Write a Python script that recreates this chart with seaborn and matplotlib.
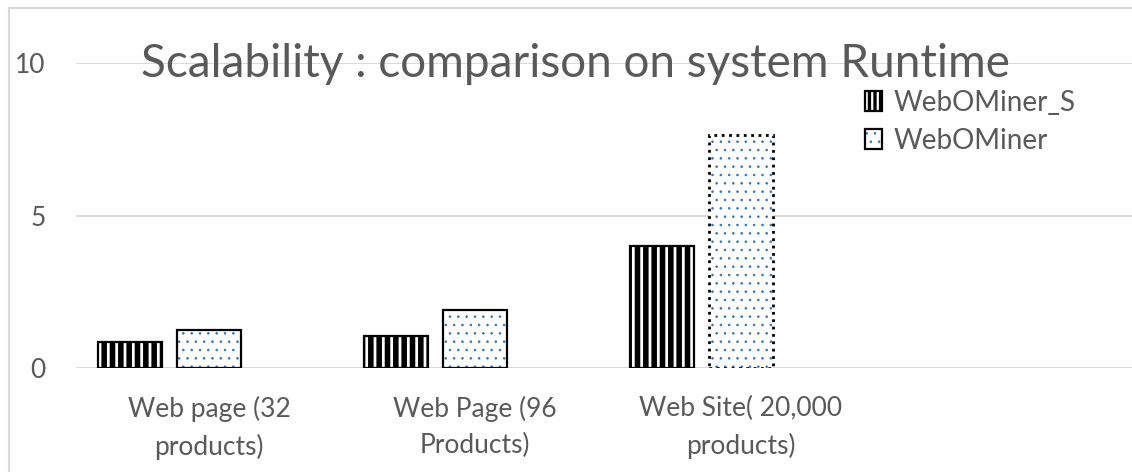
import matplotlib
matplotlib.use("Agg")
import matplotlib.pyplot as plt
import seaborn as sns
import pandas as pd
from matplotlib.patches import Patch, Rectangle

# Runtime per dataset size for the two miners
categories = ["Web page (32\nproducts)", "Web Page (96\nProducts)", "Web Site( 20,000\nproducts)"]
webominer_s = [0.85, 1.05, 4.0]
webominer = [1.25, 1.9, 7.65]
series = ["WebOMiner_S", "WebOMiner", "Series3"]  # Series3 holds no values
y_ticks = [0, 5, 10]
title = "Scalability : comparison on system Runtime"

TEXT = "#595959"
GRID = "#D9D9D9"
DOT_BLUE = "#2E75B6"
FS = 19

df = pd.DataFrame({
    "category": categories * 2,
    "runtime": webominer_s + webominer,
    "series": [series[0]] * len(categories) + [series[1]] * len(categories),
})

sns.set_theme(style="white")
plt.rcParams["font.family"] = ["Lato", "DejaVu Sans"]

fig = plt.figure(figsize=(11.32, 4.72), dpi=100)
ax = fig.add_axes([76 / 1132, 1 - 368.3 / 472, 1064 / 1132, 305 / 472])

sns.barplot(
    data=df, x="category", y="runtime", hue="series",
    order=categories, hue_order=series,
    palette={series[0]: "white", series[1]: "white", series[2]: "white"},
    width=0.89, gap=0.19, edgecolor="black", linewidth=1.6,
    legend=False, ax=ax, zorder=3,
)


def hatch_style(patch, hatch, hatch_color, hatch_lw):
    """Give a patch a hatch with its own colour and stroke width."""
    patch.set_facecolor("white")
    patch.set_hatch(hatch)
    patch._hatch_color = matplotlib.colors.to_rgba(hatch_color)
    if hasattr(patch, "set_hatch_linewidth"):
        patch.set_hatch_linewidth(hatch_lw)
    orig_draw = patch.draw

    def draw(renderer, _orig=orig_draw, _lw=hatch_lw):
        with matplotlib.rc_context({"hatch.linewidth": _lw}):
            _orig(renderer)

    patch.draw = draw


STRIPE = ("||", "black", 4.0)
DOTS = ("..", DOT_BLUE, 0.6)
STRIPE_KEY = ("|||", "black", 2.4)

for p in ax.containers[0]:
    hatch_style(p, *STRIPE)
for i, p in enumerate(ax.containers[1]):
    hatch_style(p, *DOTS)
    if i == 2:
        p.set_linestyle(":")
        p.set_linewidth(2.0)

ax.set_xlim(-0.5, 3.5)
ax.set_ylim(0, 10)
ax.set_yticks(y_ticks)
ax.set_yticklabels([str(t) for t in y_ticks])
ax.set_xlabel("")
ax.set_ylabel("")
for s in ax.spines.values():
    s.set_visible(False)
ax.set_axisbelow(True)
ax.yaxis.grid(True, color=GRID, linewidth=1.4)
ax.xaxis.grid(False)
ax.tick_params(axis="y", length=0, pad=22, labelsize=FS, labelcolor=TEXT)
ax.tick_params(axis="x", length=0, pad=20, labelsize=FS, labelcolor=TEXT)
for lbl in ax.get_xticklabels():
    lbl.set_linespacing(1.55)
ax.set_facecolor("white")

fig.text(575 / 1132, 1 - 64 / 472, title, ha="center", va="center",
         fontsize=33, color=TEXT)

handles = [
    Patch(facecolor="white", edgecolor="black", linewidth=1.6, label=series[0]),
    Patch(facecolor="white", edgecolor="black", linewidth=1.6, label=series[1]),
]
leg = fig.legend(handles=handles, loc="upper left",
                 bbox_to_anchor=(865 / 1132, 1 - 90 / 472),
                 frameon=False, fontsize=20, labelcolor=TEXT,
                 handlelength=0.62, handleheight=0.72, handletextpad=0.4,
                 labelspacing=0.42, borderpad=0, borderaxespad=0)
for lp, style in zip(leg.get_patches(), [STRIPE_KEY, DOTS]):
    hatch_style(lp, *style)

# chart area frame
fig.add_artist(Rectangle((9 / 1132, -0.1), 1.5, 1.1 - 8.3 / 472,
                         transform=fig.transFigure, fill=False,
                         edgecolor=GRID, linewidth=1.5))

fig.savefig("out.png", dpi=100)
